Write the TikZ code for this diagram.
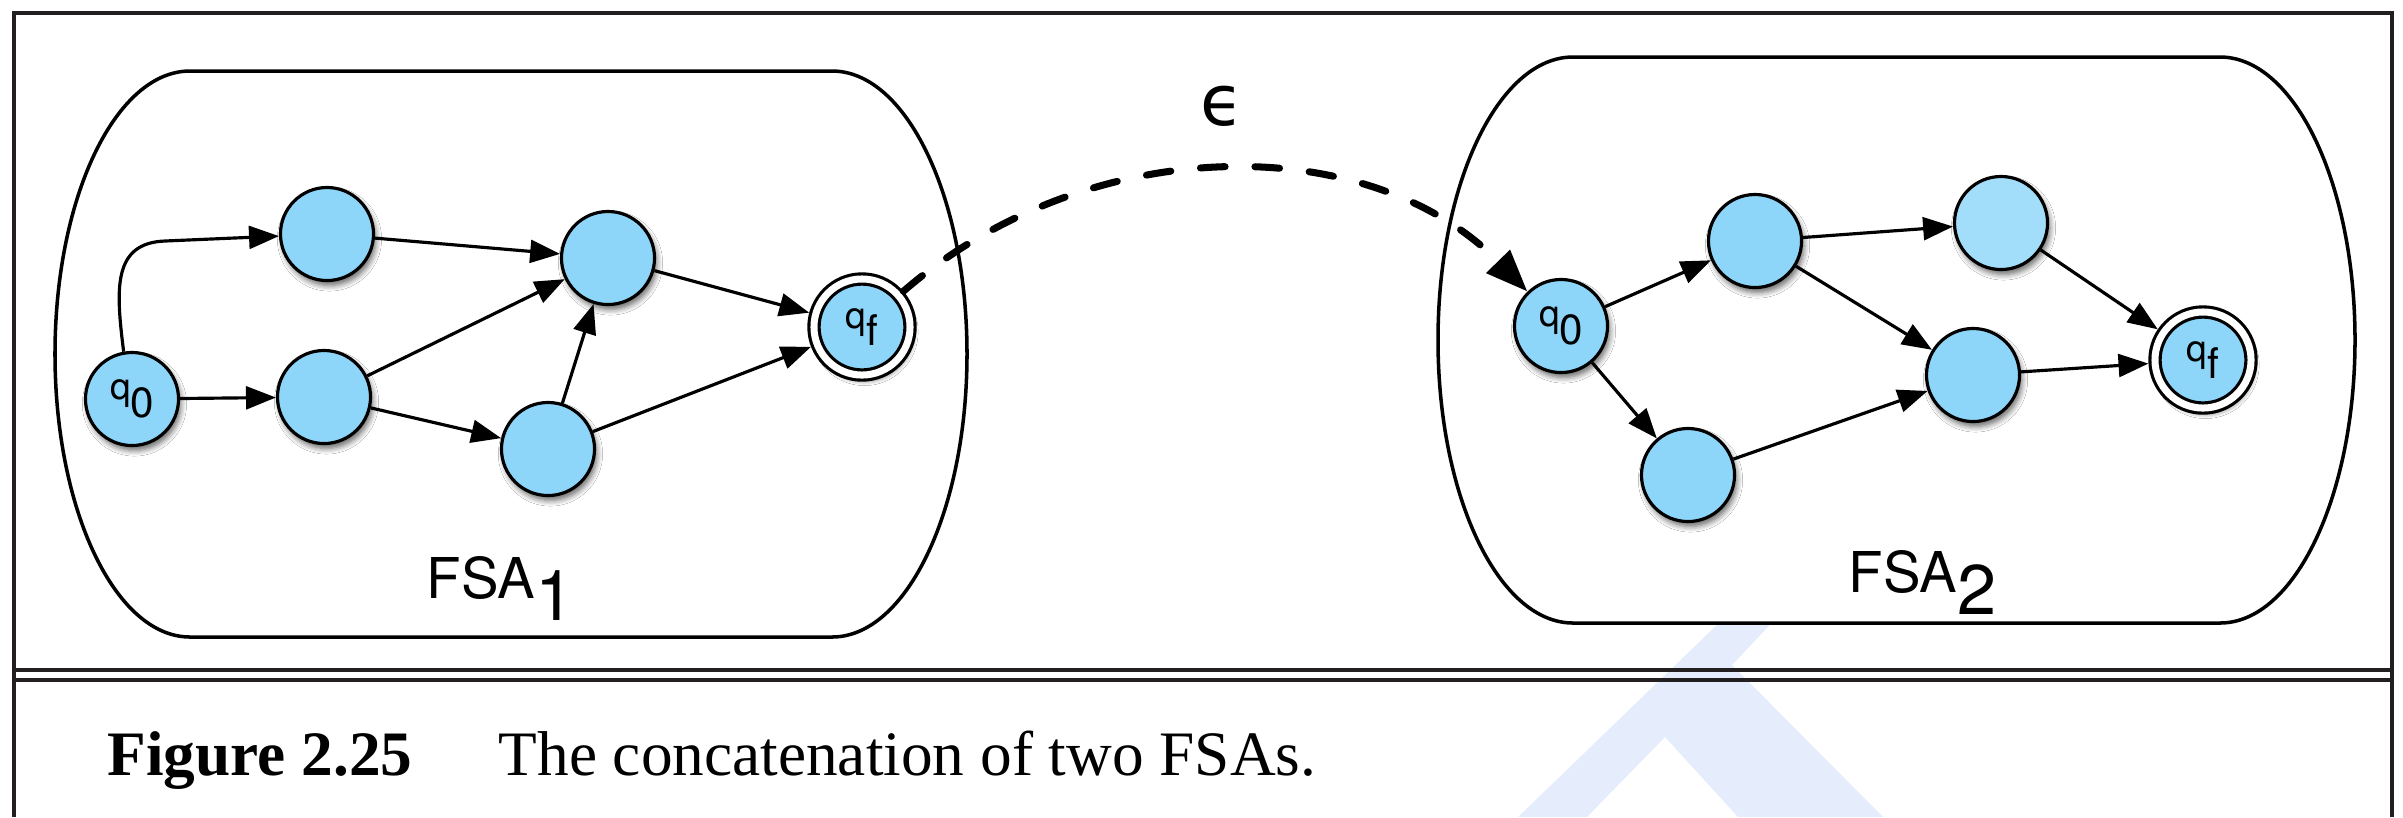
\documentclass[tikz,border=0pt]{standalone}
\usepackage{fontspec}
\setmainfont{TeX Gyre Heros}
\newfontfamily\capfont{Liberation Serif}
\newfontfamily\symfont{DejaVu Sans}
\usetikzlibrary{arrows.meta, shadows.blur}

\definecolor{stateblue}{RGB}{142,213,250}
\definecolor{stateblue2}{RGB}{162,222,250}
\definecolor{framegray}{RGB}{35,31,32}
\definecolor{markblue}{RGB}{229,237,252}

\tikzstyle{state} = [circle, draw, line width=0.9pt, fill=stateblue, minimum size=0.93cm, inner sep=0pt, blur shadow={shadow xshift=0.7pt, shadow yshift=-1.4pt, shadow blur steps=6, shadow blur radius=1.6pt, shadow opacity=60}]
\tikzstyle{final} = [state, double, double distance=2pt, minimum size=0.96cm, outer sep=1.9pt]
\tikzstyle{machine} = [draw, line width=1pt, fill=white]
\tikzstyle{frame} = [draw=framegray, line width=1.2pt]
\tikzstyle{line} = [draw, line width=0.9pt, -{Triangle[length=8.5pt,width=6.5pt]}]
\tikzstyle{eps} = [draw, line width=2pt, line cap=round, dash pattern=on 7pt off 8.5pt, -{Triangle[length=12pt,width=9pt]}]

% state name with a lowered index
\newcommand{\qlab}[2]{{\fontsize{10.5}{12}\selectfont #1}\raisebox{-5pt}{\fontsize{12}{14}\selectfont #2}}
\newcommand{\fsalab}[1]{{\fontsize{16}{18}\selectfont FSA}\raisebox{-6.5pt}{\fontsize{20}{22}\selectfont #1}}

\begin{document}
\begin{tikzpicture}[x=0.01cm, y=-0.01cm, node distance=1cm, auto]
\useasboundingbox (0,0) rectangle (2403,817);

% mark in the background
\fill[markblue] (1518,817) -- (1753,590) -- (1803,590) -- (1732,665) -- (1883,817) -- (1738,817) -- (1665,737) -- (1587,817) -- cycle;

% frame and double rule
\path[frame] (14,817) -- (14,13) -- (2392,13) -- (2392,817);
\path[frame] (14,670) -- (2392,670);
\path[frame] (14,680) -- (2392,680);

% the two machines
\path[machine] (190,71) -- (832,71) arc[start angle=-90, end angle=90, x radius=135, y radius=283] -- (190,637) arc[start angle=90, end angle=270, x radius=135, y radius=283] -- cycle;
\path[machine] (1573,57) -- (2220,57) arc[start angle=-90, end angle=90, x radius=135, y radius=283] -- (1573,623) arc[start angle=90, end angle=270, x radius=135, y radius=283] -- cycle;

% FSA 1
\node [state] (q0) at (132,399) {\qlab{q}{0}};
\node [state] (a1) at (327,234) {};
\node [state] (b1) at (324,397) {};
\node [state] (c1) at (608,258) {};
\node [state] (d1) at (548,449) {};
\node [final] (f1) at (862,327) {\qlab{q}{f}};

% FSA 2
\node [state] (q2) at (1561,326) {\qlab{q}{0}};
\node [state] (a2) at (1755,241) {};
\node [state] (b2) at (1688,475) {};
\node [state, fill=stateblue2] (c2) at (2001,223) {};
\node [state] (d2) at (1973,375) {};
\node [final] (f2) at (2203,360) {\qlab{q}{f}};

\node [anchor=base west, inner sep=0] (fsa1) at (426,598) {\fsalab{1}};
\node [anchor=base west, inner sep=0] (fsa2) at (1848,592) {\fsalab{2}};

\path [line] (q0.100) .. controls (116,290) and (112,243) .. (165,241) -- (a1);
\path [line] (q0) -- (b1);
\path [line] (a1) -- (c1);
\path [line] (b1) -- (c1);
\path [line] (b1) -- (d1);
\path [line] (d1) -- (c1);
\path [line] (c1) -- (f1);
\path [line] (d1) -- (f1);

\path [line] (q2) -- (a2);
\path [line] (q2) -- (b2);
\path [line] (a2) -- (c2);
\path [line] (a2) -- (d2);
\path [line] (b2) -- (d2);
\path [line] (c2) -- (f2);
\path [line] (d2) -- (f2);

% epsilon move
\path [eps] (f1) .. controls (1090,130) and (1370,130) .. (q2);
\node (epsl) at (1222,106) {\symfont\fontsize{20}{23}\selectfont ϵ};

% caption
\node [anchor=base west, inner sep=0] (fignum) at (107,775) {\capfont\fontsize{18}{22}\selectfont\bfseries Figure 2.25};
\node [anchor=base west, inner sep=0] (figtext) at (498,775) {\capfont\fontsize{18}{22}\selectfont The concatenation of two FSAs.};

\end{tikzpicture}
\end{document}
